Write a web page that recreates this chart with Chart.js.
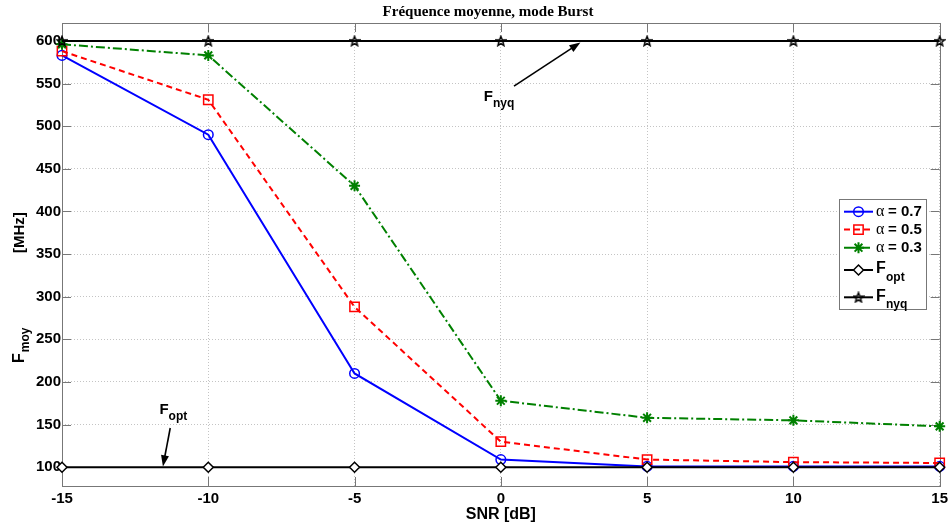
<!DOCTYPE html>
<html><head><meta charset="utf-8">
<style>html,body{margin:0;padding:0;background:#fff}#wrap{width:952px;height:528px;position:relative}</style>
<script src="https://cdn.jsdelivr.net/npm/chart.js@4.4.1/dist/chart.umd.min.js"></script>
</head><body><div id="wrap"><canvas id="c"></canvas></div>
<script>
// ---- data ----
const snr = [-15, -10, -5, 0, 5, 10, 15];
const alpha07 = [583, 490, 210, 109, 101, 101, 101];
const alpha05 = [588, 531, 288, 130, 109, 106, 105];
const alpha03 = [596, 583, 430, 178, 158, 155, 148];
const fOpt = [100, 100, 100, 100, 100, 100, 100];
const fNyq = [600, 600, 600, 600, 600, 600, 600];
const xTicks = [-15, -10, -5, 0, 5, 10, 15];
const yTicks = [100, 150, 200, 250, 300, 350, 400, 450, 500, 550, 600];
const chartTitle = 'Fréquence moyenne, mode Burst';
const xTitle = 'SNR [dB]';
const yTitleMain = 'F', yTitleSub = 'moy', yTitleUnit = '[MHz]';
const legendAlpha = ['= 0.7', '= 0.5', '= 0.3'];
const legendF = ['opt', 'nyq'];
// annotations in data coordinates
const nyqLabel = {x: -0.58, y: 529.5, sub: 'nyq'};
const nyqArrow = {from: [0.45, 547], to: [2.72, 598]};
const optLabel = {x: -11.67, y: 162, sub: 'opt'};
const optArrow = {from: [-11.3, 146], to: [-11.55, 101]};

function makePentagram() {
  const c = document.createElement('canvas');
  c.width = 12; c.height = 12;
  const g = c.getContext('2d');
  g.beginPath();
  for (let i = 0; i < 10; i++) {
    const r = i % 2 ? 2.2 : 5.0;
    const a = -Math.PI / 2 + i * Math.PI / 5;
    g.lineTo(6 + r * Math.cos(a), 6.5 + r * Math.sin(a));
  }
  g.closePath();
  g.lineWidth = 1.5; g.strokeStyle = '#000'; g.stroke();
  return c;
}
const pentagram = makePentagram();
const pts = (arr) => snr.map((x, i) => ({x: x, y: arr[i]}));
const SANS = '"Liberation Sans", Arial, sans-serif';

const datasets = [
  {label: 'a07', data: pts(alpha07), borderColor: '#0000ff', borderWidth: 2, pointStyle: 'circle', pointRadius: 4.8, pointBorderWidth: 1.5, pointBorderColor: '#0000ff', pointBackgroundColor: 'rgba(0,0,0,0)', order: 5, clip: false},
  {label: 'a05', data: pts(alpha05), borderColor: '#ff0000', borderWidth: 2, borderDash: [6, 4], pointStyle: 'rect', pointRadius: 6.6, pointBorderWidth: 1.5, pointBorderColor: '#ff0000', pointBackgroundColor: 'rgba(0,0,0,0)', order: 4, clip: false},
  {label: 'a03', data: pts(alpha03), borderColor: '#008000', borderWidth: 2, borderDash: [9, 3, 2, 3], pointStyle: 'star', pointRadius: 5.5, pointBorderWidth: 2, pointBorderColor: '#008000', pointBackgroundColor: 'rgba(0,0,0,0)', order: 3, clip: false},
  {label: 'fopt', data: pts(fOpt), borderColor: '#000', borderWidth: 2, pointStyle: 'rectRot', pointRadius: 5, pointBorderWidth: 1.5, pointBorderColor: '#000', pointBackgroundColor: 'rgba(255,255,255,1)', order: 2, clip: false},
  {label: 'fnyq', data: pts(fNyq), borderColor: '#000', borderWidth: 2, pointStyle: pentagram, pointRadius: 5, order: 1, clip: false}
];

function arrow(ctx, x1, y1, x2, y2) {
  const ang = Math.atan2(y2 - y1, x2 - x1);
  const L = 11, W = 4;
  ctx.save();
  ctx.strokeStyle = '#000'; ctx.fillStyle = '#000'; ctx.lineWidth = 1.6; ctx.setLineDash([]);
  ctx.beginPath(); ctx.moveTo(x1, y1);
  ctx.lineTo(x2 - L * 0.8 * Math.cos(ang), y2 - L * 0.8 * Math.sin(ang)); ctx.stroke();
  ctx.beginPath();
  ctx.moveTo(x2, y2);
  ctx.lineTo(x2 - L * Math.cos(ang) + W * Math.sin(ang), y2 - L * Math.sin(ang) - W * Math.cos(ang));
  ctx.lineTo(x2 - L * Math.cos(ang) - W * Math.sin(ang), y2 - L * Math.sin(ang) + W * Math.cos(ang));
  ctx.closePath(); ctx.fill();
  ctx.restore();
}

const decor = {
  id: 'decor',
  beforeDatasetsDraw(chart) {
    const ctx = chart.ctx, a = chart.chartArea, xs = chart.scales.x, ys = chart.scales.y;
    ctx.save();
    ctx.strokeStyle = '#777'; ctx.lineWidth = 1; ctx.setLineDash([]);
    ctx.strokeRect(Math.round(a.left) + 0.5, Math.round(a.top) + 0.5, Math.round(a.right - a.left), Math.round(a.bottom - a.top));
    ctx.beginPath();
    const T = 9;
    yTicks.forEach(v => {
      const y = Math.round(ys.getPixelForValue(v)) + 0.5;
      ctx.moveTo(a.left, y); ctx.lineTo(a.left + T, y);
      ctx.moveTo(a.right, y); ctx.lineTo(a.right - T, y);
    });
    xTicks.forEach(v => {
      const x = Math.round(xs.getPixelForValue(v)) + 0.5;
      ctx.moveTo(x, a.bottom); ctx.lineTo(x, a.bottom - T);
      ctx.moveTo(x, a.top); ctx.lineTo(x, a.top + T);
    });
    ctx.stroke();
    ctx.restore();
  },
  afterDatasetsDraw(chart) {
    const ctx = chart.ctx, a = chart.chartArea, xs = chart.scales.x, ys = chart.scales.y;
    const ds = chart.data.datasets;
    ctx.save();
    ctx.fillStyle = '#000';
    // title
    ctx.font = 'bold 15px "Liberation Serif", "Times New Roman", serif';
    ctx.textAlign = 'center'; ctx.textBaseline = 'alphabetic';
    ctx.fillText(chartTitle, 488, 16);
    // x title
    ctx.font = 'bold 16px ' + SANS;
    ctx.fillText(xTitle, (a.left + a.right) / 2, 519);
    // y title (rotated, with subscript)
    ctx.save();
    ctx.translate(24, 363); ctx.rotate(-Math.PI / 2);
    ctx.textAlign = 'left';
    ctx.font = 'bold 16px ' + SANS;
    ctx.fillText(yTitleMain, 0, 0);
    const fw = ctx.measureText(yTitleMain).width;
    ctx.font = 'bold 12px ' + SANS;
    ctx.fillText(yTitleSub, fw + 1, 5);
    ctx.font = 'bold 15px ' + SANS;
    ctx.fillText(yTitleUnit, 110, 0);
    ctx.restore();

    // annotations
    ctx.textAlign = 'left';
    [[nyqLabel, nyqArrow], [optLabel, optArrow]].forEach(([lab, ar]) => {
      const lx = xs.getPixelForValue(lab.x), ly = ys.getPixelForValue(lab.y);
      ctx.font = 'bold 15px ' + SANS;
      ctx.fillText('F', lx, ly);
      const w = ctx.measureText('F').width;
      ctx.font = 'bold 12px ' + SANS;
      ctx.fillText(lab.sub, lx + w, ly + 6);
      arrow(ctx, xs.getPixelForValue(ar.from[0]), ys.getPixelForValue(ar.from[1]),
                 xs.getPixelForValue(ar.to[0]), ys.getPixelForValue(ar.to[1]));
    });

    // legend
    const bx = 839, by = 199, bw = 87, bh = 110;
    ctx.fillStyle = '#fff'; ctx.fillRect(bx, by, bw, bh);
    ctx.strokeStyle = '#777'; ctx.lineWidth = 1; ctx.setLineDash([]);
    ctx.strokeRect(bx + 0.5, by + 0.5, bw, bh);
    const rows = [211.7, 229.6, 247.7, 270, 297.3];
    ds.forEach((d, i) => {
      const y = rows[i];
      ctx.save();
      ctx.strokeStyle = d.borderColor; ctx.lineWidth = d.borderWidth;
      ctx.setLineDash(d.borderDash || []);
      ctx.beginPath(); ctx.moveTo(844, y); ctx.lineTo(873, y); ctx.stroke();
      ctx.setLineDash([]);
      ctx.fillStyle = d.pointBackgroundColor || 'rgba(0,0,0,0)';
      ctx.strokeStyle = d.pointBorderColor || '#000';
      ctx.lineWidth = d.pointBorderWidth || 1;
      Chart.helpers.drawPoint(ctx, {pointStyle: d.pointStyle, radius: d.pointRadius, rotation: 0, borderWidth: d.pointBorderWidth || 1}, 858.5, y);
      ctx.restore();
      ctx.fillStyle = '#000';
      if (i < 3) {
        ctx.font = '16px "Liberation Serif", "Times New Roman", serif';
        ctx.fillText('\u03b1', 876, y + 4.5);
        ctx.font = 'bold 15px ' + SANS;
        ctx.fillText(legendAlpha[i], 888, y + 4.5);
      } else {
        ctx.font = 'bold 16px ' + SANS;
        ctx.fillText('F', 876, y + 3.4);
        ctx.font = 'bold 12px ' + SANS;
        ctx.fillText(legendF[i - 3], 886, y + 10.5);
      }
    });
    ctx.restore();
  }
};

const tickFont = {family: SANS, size: 15, weight: 'bold'};
new Chart(document.getElementById('c'), {
  type: 'line',
  data: {datasets: datasets},
  options: {
    responsive: true, maintainAspectRatio: false, animation: false, events: [],
    layout: {padding: {left: 0, right: 6, top: 23, bottom: 0}, autoPadding: false},
    plugins: {legend: {display: false}, tooltip: {enabled: false}, title: {display: false}},
    elements: {line: {tension: 0}},
    scales: {
      x: {
        type: 'linear', min: -15, max: 15,
        afterBuildTicks: s => { s.ticks = xTicks.map(v => ({value: v})); },
        afterFit: s => { s.height = 42; },
        grid: {color: '#c4c4c4', lineWidth: 1, drawTicks: false},
        border: {display: false, dash: [1, 2]},
        ticks: {color: '#000', font: tickFont, padding: 4, maxRotation: 0, autoSkip: false}
      },
      y: {
        type: 'linear', min: 78, max: 621,
        afterBuildTicks: s => { s.ticks = yTicks.map(v => ({value: v})); },
        afterFit: s => { s.width = 62; },
        grid: {color: '#c4c4c4', lineWidth: 1, drawTicks: false},
        border: {display: false, dash: [1, 2]},
        ticks: {color: '#000', font: tickFont, padding: 1, autoSkip: false}
      }
    }
  },
  plugins: [decor]
});
</script>
</body></html>
